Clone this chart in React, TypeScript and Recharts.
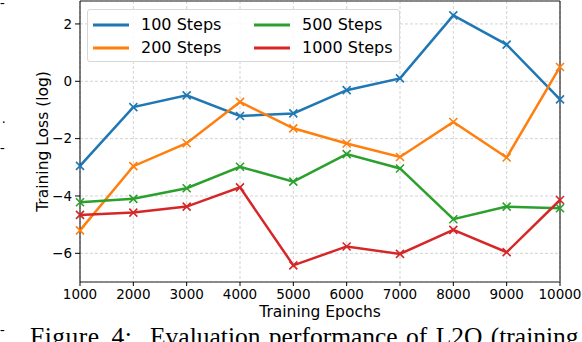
import React from 'react';
import { LineChart, Line, XAxis, YAxis, CartesianGrid, ReferenceLine } from 'recharts';

const epochs = [1000, 2000, 3000, 4000, 5000, 6000, 7000, 8000, 9000, 10000];
const steps100 = [-2.95, -0.9, -0.49, -1.21, -1.12, -0.31, 0.1, 2.3, 1.28, -0.63];
const steps200 = [-5.2, -2.96, -2.16, -0.72, -1.64, -2.17, -2.64, -1.42, -2.66, 0.5];
const steps500 = [-4.22, -4.1, -3.73, -2.98, -3.5, -2.54, -3.04, -4.81, -4.37, -4.43];
const steps1000 = [-4.66, -4.58, -4.37, -3.7, -6.42, -5.76, -6.02, -5.18, -5.96, -4.14];
const xTicks = [1000, 2000, 3000, 4000, 5000, 6000, 7000, 8000, 9000, 10000];
const yTicks = [-6, -4, -2, 0, 2];

const series = [
  { key: 's100', name: '100 Steps', color: '#1f77b4', values: steps100 },
  { key: 's200', name: '200 Steps', color: '#ff7f0e', values: steps200 },
  { key: 's500', name: '500 Steps', color: '#2ca02c', values: steps500 },
  { key: 's1000', name: '1000 Steps', color: '#d62728', values: steps1000 },
];

const data = epochs.map((e, i) => {
  const row: any = { epoch: e };
  series.forEach((s) => { row[s.key] = s.values[i]; });
  return row;
});

const FONT = 'DejaVu Sans, sans-serif';
const SERIF = 'Liberation Serif, serif';

const xMarker = (color: string) => (props: any) => {
  const { cx, cy, index } = props;
  if (cx == null || cy == null) return <g key={index} />;
  const r = 4;
  return (
    <path
      key={index}
      d={`M${cx - r},${cy - r}L${cx + r},${cy + r}M${cx - r},${cy + r}L${cx + r},${cy - r}`}
      stroke={color}
      strokeWidth={1.6}
      fill="none"
    />
  );
};

const LegendBox = () => (
  <div
    style={{
      position: 'absolute',
      left: 87,
      top: 9,
      boxSizing: 'border-box',
      width: 313,
      height: 53,
      border: '1px solid #d8d8d8',
      borderRadius: 3,
      background: 'rgba(255,255,255,0.85)',
      display: 'grid',
      gridTemplateRows: '23px 23px',
      gridTemplateColumns: '161px 150px',
      gridAutoFlow: 'column',
      padding: '3px 0 0 5px',
      fontFamily: FONT,
      fontSize: 16,
      color: '#000',
    }}
  >
    {series.map((s) => (
      <div key={s.key} style={{ display: 'flex', alignItems: 'center' }}>
        <svg width={36} height={6} style={{ marginRight: 12 }}>
          <line x1={0} y1={3} x2={36} y2={3} stroke={s.color} strokeWidth={3} />
        </svg>
        <span>{s.name}</span>
      </div>
    ))}
  </div>
);

export default function App() {
  return (
    <div style={{ position: 'absolute', left: 0, top: 0, width: 582, height: 342, overflow: 'hidden', background: '#fff' }}>
      <LineChart width={582} height={342} data={data} margin={{ top: 1, right: 22, bottom: 20, left: 0 }}>
        <CartesianGrid stroke="#c8c8c8" strokeDasharray="3 2" strokeWidth={0.8} />
        <XAxis
          dataKey="epoch"
          type="number"
          domain={[1000, 10000]}
          ticks={xTicks}
          height={40}
          tickSize={4}
          tickMargin={3}
          tick={{ fontFamily: FONT, fontSize: 13.5, fill: '#000' }}
          tickLine={{ stroke: '#000' }}
          axisLine={{ stroke: '#666', strokeWidth: 1.5 }}
          label={{ value: 'Training Epochs', position: 'insideBottom', offset: 5, fontFamily: FONT, fontSize: 15.5, fill: '#000' }}
        />
        <YAxis
          type="number"
          domain={[-7, 2.8]}
          ticks={yTicks}
          allowDataOverflow
          width={80}
          tickSize={5}
          tickMargin={3}
          tickFormatter={(v: number) => (v < 0 ? `\u2212${Math.abs(v)}` : `${v}`)}
          tick={{ fontFamily: FONT, fontSize: 13.5, fill: '#000' }}
          tickLine={{ stroke: '#000' }}
          axisLine={{ stroke: '#000', strokeWidth: 1 }}
          label={{ value: 'Training Loss (log)', angle: -90, position: 'center', dx: 2, fontFamily: FONT, fontSize: 15.5, fill: '#000' }}
        />
        <ReferenceLine y={2.8} stroke="#666" strokeWidth={1.5} />
        <ReferenceLine x={10000} stroke="#000" strokeWidth={1} />
        {series.map((s) => (
          <Line
            key={s.key}
            dataKey={s.key}
            name={s.name}
            stroke={s.color}
            strokeWidth={2.5}
            dot={xMarker(s.color)}
            activeDot={false}
            isAnimationActive={false}
          />
        ))}
      </LineChart>
      <LegendBox />
      <div style={{ position: 'absolute', left: 0, top: -4, fontFamily: SERIF, fontSize: 14, lineHeight: 1 }}>-</div>
      <div style={{ position: 'absolute', left: 2, top: 112, fontFamily: SERIF, fontSize: 14, lineHeight: 1 }}>.</div>
      <div style={{ position: 'absolute', left: 0, top: 141, fontFamily: SERIF, fontSize: 14, lineHeight: 1 }}>-</div>
      <div style={{ position: 'absolute', left: 0, top: 323, fontFamily: SERIF, fontSize: 14, lineHeight: 1 }}>-</div>
      <div
        style={{
          position: 'absolute',
          left: 30,
          top: 324,
          fontFamily: SERIF,
          fontSize: 25.5,
          lineHeight: 1,
          whiteSpace: 'nowrap',
          wordSpacing: 5,
          letterSpacing: 0.5,
          color: '#000',
        }}
      >
        Figure 4:
      </div>
      <div
        style={{
          position: 'absolute',
          left: 150,
          top: 324,
          fontFamily: SERIF,
          fontSize: 25.5,
          lineHeight: 1,
          whiteSpace: 'nowrap',
          wordSpacing: 2,
          color: '#000',
        }}
      >
        Evaluation performance of L2O (training
      </div>
    </div>
  );
}
